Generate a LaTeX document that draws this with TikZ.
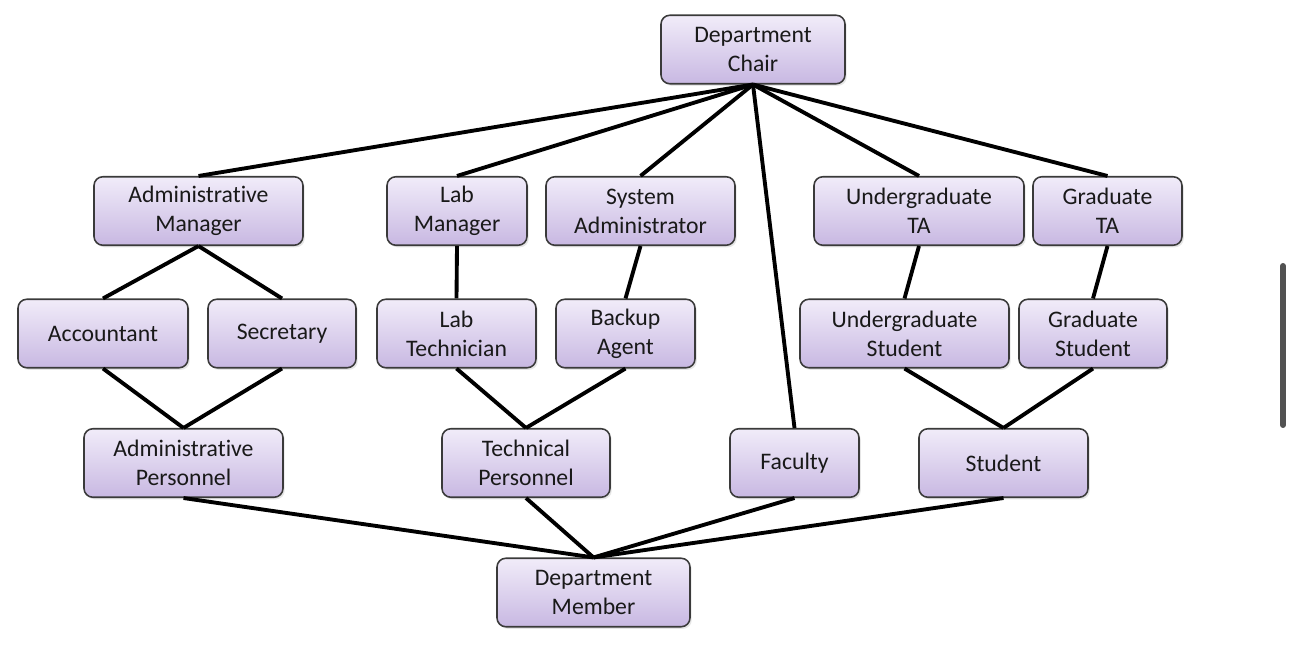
\documentclass[tikz,border=0pt]{standalone}
\usepackage{fontspec}
\setmainfont{Carlito}[Ligatures={NoCommon}]
\usetikzlibrary{shadows}
\definecolor{boxtop}{HTML}{F1ECF9}
\definecolor{boxbot}{HTML}{C8B8E2}
\definecolor{boxline}{HTML}{3A3A3A}
\begin{document}
\begin{tikzpicture}[x=0.02cm, y=-0.02cm,
  every node/.style={font=\fontsize{13.5}{16.5}\selectfont, text=black!90},
  rolebox/.style={draw=boxline, line width=0.9pt, rounded corners=5pt, top color=boxtop, bottom color=boxbot,
    minimum height=1.37cm, align=center, inner sep=2pt,
    drop shadow={opacity=0.2, shadow xshift=1pt, shadow yshift=-1.2pt}},
  link/.style={line width=2.2pt, black}]
\useasboundingbox (0,0) rectangle (1302,651);
% top
\node[rolebox,minimum width=3.68cm] (chair) at (753,49.5) {Department\\Chair};
% second row
\node[rolebox,minimum width=4.18cm] (admmgr) at (198.5,211) {Administrative\\Manager};
\node[rolebox,minimum width=2.8cm] (labmgr) at (457,211) {Lab\\Manager};
\node[rolebox,minimum width=3.78cm] (sysadm) at (640.5,211) {System\\Administrator};
\node[rolebox,minimum width=4.2cm] (ugta) at (919,211) {Undergraduate\\TA};
\node[rolebox,minimum width=2.98cm] (gta) at (1107.5,211) {Graduate\\TA};
% third row
\node[rolebox,minimum width=3.4cm] (acct) at (103,333.5) {Accountant};
\node[rolebox,minimum width=2.96cm] (secr) at (282,333.5) {Secretary};
\node[rolebox,minimum width=3.18cm] (labtech) at (456.5,333.5) {Lab\\Technician};
\node[rolebox,minimum width=2.78cm] (backup) at (625.5,333.5) {Backup\\Agent};
\node[rolebox,minimum width=4.18cm] (ugstud) at (904.5,333.5) {Undergraduate\\Student};
\node[rolebox,minimum width=2.96cm] (gstud) at (1093,333.5) {Graduate\\Student};
% fourth row
\node[rolebox,minimum width=3.98cm] (admpers) at (183.5,463) {Administrative\\Personnel};
\node[rolebox,minimum width=3.36cm] (techpers) at (526,463) {Technical\\Personnel};
\node[rolebox,minimum width=2.58cm] (faculty) at (794.5,463) {Faculty};
\node[rolebox,minimum width=3.38cm] (student) at (1003.5,463) {Student};
% bottom
\node[rolebox,minimum width=3.86cm] (member) at (593.5,592.5) {Department\\Member};
% links
\foreach \t in {admmgr,labmgr,sysadm,ugta,gta}
  \draw[link] (chair.south) -- (\t.north);
\draw[link] (chair.south) -- (faculty.north);
\draw[link] (admmgr.south) -- (acct.north);
\draw[link] (admmgr.south) -- (secr.north);
\draw[link] (labmgr.south) -- (labtech.north);
\draw[link] (sysadm.south) -- (backup.north);
\draw[link] (ugta.south) -- (ugstud.north);
\draw[link] (gta.south) -- (gstud.north);
\draw[link] (acct.south) -- (admpers.north);
\draw[link] (secr.south) -- (admpers.north);
\draw[link] (labtech.south) -- (techpers.north);
\draw[link] (backup.south) -- (techpers.north);
\draw[link] (ugstud.south) -- (student.north);
\draw[link] (gstud.south) -- (student.north);
\foreach \s in {admpers,techpers,faculty,student}
  \draw[link] (\s.south) -- (member.north);
% side bar
\coordinate (bartop) at (1283,266);
\coordinate (barbot) at (1283,425);
\draw[line width=3.4pt, line cap=round, black!68] (bartop) -- (barbot);
\end{tikzpicture}
\end{document}
